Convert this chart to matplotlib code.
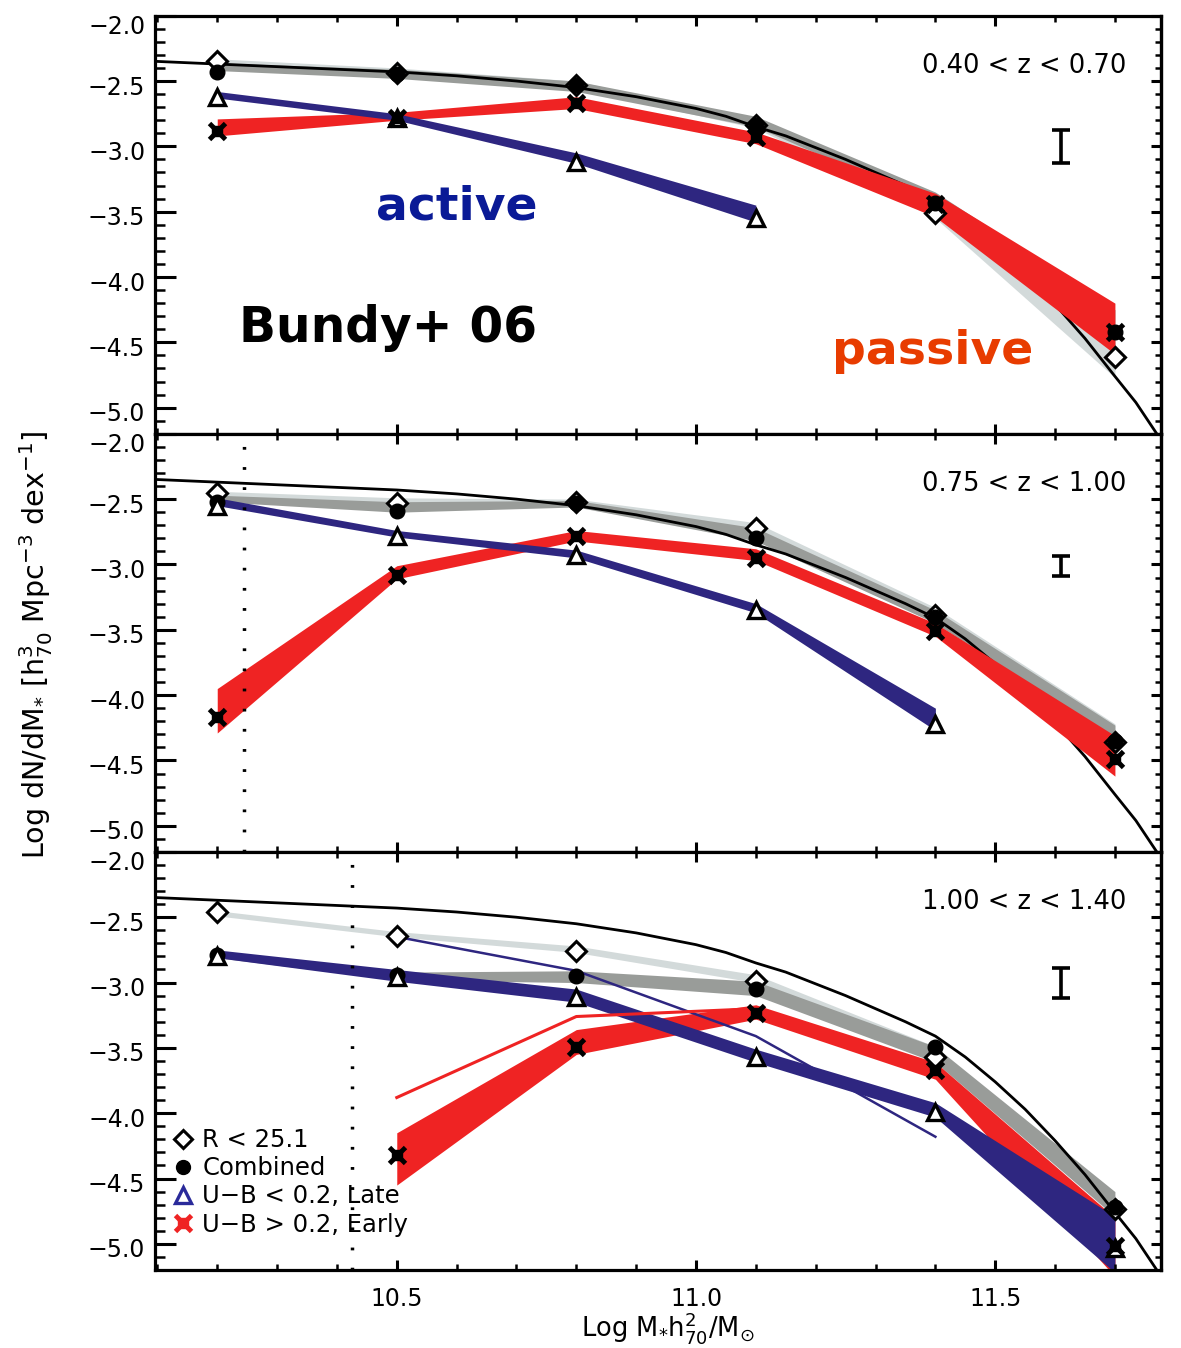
import numpy as np
import matplotlib
matplotlib.use("Agg")
import matplotlib.pyplot as plt
from matplotlib.ticker import MultipleLocator, FuncFormatter
from matplotlib.lines import Line2D
from matplotlib.legend_handler import HandlerTuple
from matplotlib.transforms import ScaledTranslation

plt.rcParams['font.family'] = ['DejaVu Sans']
plt.rcParams['mathtext.fontset'] = 'dejavusans'

# ---------------- data ----------------
mass = [10.2, 10.5, 10.8, 11.1, 11.4, 11.7]
z_labels = ["0.40 < z < 0.70", "0.75 < z < 1.00", "1.00 < z < 1.40"]

# local reference mass function (black curve)
curve_mass = [10.10, 10.20, 10.30, 10.40, 10.50, 10.60, 10.70, 10.80, 10.90,
              11.00, 11.05, 11.10, 11.15, 11.20, 11.25, 11.30, 11.35, 11.40,
              11.45, 11.50, 11.55, 11.60, 11.65, 11.70, 11.735, 11.77]
curve_logphi = [-2.35, -2.37, -2.39, -2.41, -2.43, -2.46, -2.50, -2.55, -2.62,
                -2.71, -2.77, -2.85, -2.92, -3.01, -3.10, -3.20, -3.30, -3.41,
                -3.57, -3.76, -3.97, -4.21, -4.47, -4.76, -4.96, -5.20]

# representative error bar per panel
err_mass = 11.61
err_center = [-3.0, -3.01, -3.0]
err_half = [0.125, 0.075, 0.115]

# completeness limits (dotted lines)
complete_limit = [None, 10.245, 10.426]

# ---- panel 1 : 0.40 < z < 0.70 ----
p1_rlim = [-2.35, -2.44, -2.53, -2.84, -3.51, -4.61]
p1_comb = [-2.43, -2.45, -2.53, -2.84, -3.43, -4.42]
p1_late = [-2.62, -2.78, -3.12, -3.55]
p1_early = [-2.88, -2.78, -2.67, -2.93, -3.44, -4.42]
p1_lgray_hi = [-2.33, -2.40, -2.50, -2.80, -3.42, -4.50]
p1_lgray_lo = [-2.38, -2.45, -2.56, -2.86, -3.55, -4.77]
p1_dgray_hi = [-2.36, -2.41, -2.50, -2.77, -3.35, -4.25]
p1_dgray_lo = [-2.42, -2.48, -2.58, -2.85, -3.45, -4.55]
p1_red_hi = [-2.79, -2.74, -2.62, -2.89, -3.36, -4.20]
p1_red_lo = [-2.92, -2.80, -2.71, -2.98, -3.54, -4.59]
p1_blue_hi = [-2.58, -2.75, -3.05, -3.45]
p1_blue_lo = [-2.63, -2.80, -3.13, -3.58]

# ---- panel 2 : 0.75 < z < 1.00 ----
p2_rlim = [-2.45, -2.53, -2.52, -2.72, -3.39, -4.36]
p2_comb = [-2.52, -2.59, -2.53, -2.80, -3.40, -4.35]
p2_late = [-2.55, -2.78, -2.93, -3.35, -4.22]
p2_early = [-4.17, -3.08, -2.78, -2.95, -3.51, -4.49]
p2_lgray_hi = [-2.44, -2.49, -2.50, -2.68, -3.33, -4.22]
p2_lgray_lo = [-2.48, -2.53, -2.54, -2.75, -3.40, -4.30]
p2_dgray_hi = [-2.47, -2.52, -2.51, -2.72, -3.35, -4.23]
p2_dgray_lo = [-2.52, -2.60, -2.56, -2.82, -3.45, -4.33]
p2_red_hi = [-3.95, -3.01, -2.74, -2.88, -3.45, -4.31]
p2_red_lo = [-4.29, -3.11, -2.82, -2.97, -3.55, -4.62]
p2_blue_hi = [-2.49, -2.74, -2.89, -3.30, -4.10]
p2_blue_lo = [-2.55, -2.79, -2.95, -3.37, -4.27]

# ---- panel 3 : 1.00 < z < 1.40 ----
p3_rlim = [-2.46, -2.64, -2.76, -2.99, -3.57, -4.73]
p3_comb = [-2.79, -2.94, -2.95, -3.05, -3.49, -4.72]
p3_late = [-2.80, -2.96, -3.11, -3.57, -3.99, -5.03]
p3_early = [-4.32, -3.49, -3.23, -3.67, -5.02]          # from 10.5 on
p3_lgray_hi = [-2.45, -2.61, -2.72, -2.94, -3.49, -4.73]
p3_lgray_lo = [-2.49, -2.65, -2.77, -3.00, -3.55, -4.80]
p3_dgray_hi = [-2.78, -2.92, -2.91, -2.99, -3.49, -4.60]
p3_dgray_lo = [-2.81, -2.98, -3.00, -3.10, -3.61, -4.79]
p3_red_hi = [-4.15, -3.36, -3.17, -3.61, -4.80]         # from 10.5 on
p3_red_lo = [-4.55, -3.55, -3.28, -3.74, -5.25]
p3_blue_hi = [-2.75, -2.90, -3.05, -3.51, -3.92, -4.79]
p3_blue_lo = [-2.81, -2.99, -3.15, -3.61, -4.03, -5.22]
p3_thin_blue = [-2.65, -2.91, -3.41, -4.18]             # 10.5 .. 11.4
p3_thin_red = [-3.88, -3.26, -3.20]                     # 10.5 .. 11.1

# ---------------- styling ----------------
C_LGRAY = '#D3DADA'
C_DGRAY = '#999C99'
C_RED = '#EF2323'
C_BLUE = '#2E2680'
C_LEG_BLUE = '#2A2A9A'
C_ACTIVE = '#0A1A96'
C_PASSIVE = '#E83C00'

panels = [
    dict(rlim=p1_rlim, comb=p1_comb, late=p1_late, early=p1_early, early_x=mass,
         lg=(p1_lgray_lo, p1_lgray_hi), dg=(p1_dgray_lo, p1_dgray_hi),
         red=(p1_red_lo, p1_red_hi), red_x=mass, blue=(p1_blue_lo, p1_blue_hi)),
    dict(rlim=p2_rlim, comb=p2_comb, late=p2_late, early=p2_early, early_x=mass,
         lg=(p2_lgray_lo, p2_lgray_hi), dg=(p2_dgray_lo, p2_dgray_hi),
         red=(p2_red_lo, p2_red_hi), red_x=mass, blue=(p2_blue_lo, p2_blue_hi)),
    dict(rlim=p3_rlim, comb=p3_comb, late=p3_late, early=p3_early, early_x=mass[1:],
         lg=(p3_lgray_lo, p3_lgray_hi), dg=(p3_dgray_lo, p3_dgray_hi),
         red=(p3_red_lo, p3_red_hi), red_x=mass[1:], blue=(p3_blue_lo, p3_blue_hi)),
]

fig = plt.figure(figsize=(11.81, 13.48), dpi=100)
axes = fig.subplots(3, 1, sharex=True)
fig.subplots_adjust(left=155/1181, right=1161/1181, top=1-15.7/1348,
                    bottom=1-1270/1348, hspace=0)

minus_fmt = FuncFormatter(lambda v, p: f"{v:.1f}".replace('-', '\u2212'))

for i, (ax, pd_) in enumerate(zip(axes, panels)):
    ax.set_xlim(10.096, 11.777)
    ax.set_ylim(-5.2, -2.0)

    # bands (gray first)
    ax.fill_between(mass, pd_['lg'][0], pd_['lg'][1], color=C_LGRAY, lw=0, zorder=1)
    ax.fill_between(mass, pd_['dg'][0], pd_['dg'][1], color=C_DGRAY, lw=0, zorder=1.1)

    # local curve (over the gray bands, under the coloured ones)
    ax.plot(curve_mass, curve_logphi, color='black', lw=2.0, zorder=1.15,
            solid_joinstyle='round')

    ax.fill_between(pd_['red_x'], pd_['red'][0], pd_['red'][1], color=C_RED, lw=0, zorder=1.2)
    nb = len(pd_['blue'][0])
    ax.fill_between(mass[:nb], pd_['blue'][0], pd_['blue'][1], color=C_BLUE, lw=0, zorder=1.3)

    if i == 2:
        ax.plot(mass[1:5], p3_thin_blue, color=C_BLUE, lw=1.8, zorder=1.4)
        ax.plot(mass[1:4], p3_thin_red, color=C_RED, lw=2.2, zorder=1.4)

    # markers
    ax.plot(mass, pd_['rlim'], ls='none', marker='D', ms=9.8, mfc='white',
            mec='black', mew=2.2, zorder=3)
    ax.plot(mass, pd_['comb'], ls='none', marker='o', ms=10.5, mfc='black',
            mec='black', zorder=3.1)
    nl = len(pd_['late'])
    ax.plot(mass[:nl], pd_['late'], ls='none', marker='^', ms=12, mfc='white',
            mec='black', mew=2.4, zorder=3.2)
    ax.plot(pd_['early_x'], pd_['early'], ls='none', marker='s', ms=7.5,
            mfc='black', mec='black', zorder=3.3)
    ax.plot(pd_['early_x'], pd_['early'], ls='none', marker='x', ms=12,
            mec='black', mew=3.5, zorder=3.3)

    # representative error bar
    ax.errorbar(err_mass, err_center[i], yerr=err_half[i], fmt='none', ecolor='black',
                elinewidth=2.6, capsize=6.5, capthick=2.6, zorder=3)

    if complete_limit[i] is not None:
        ax.axvline(complete_limit[i], ymin=0.0, ymax=0.97, color='black', lw=2.5,
                   ls=(0, (0.8, 5.0)), zorder=2)

    ax.text(0.966, 0.88, z_labels[i], transform=ax.transAxes, ha='right', va='center',
            fontsize=18.5)

    # axes / ticks
    for s in ax.spines.values():
        s.set_linewidth(2.3)
    ax.xaxis.set_major_locator(MultipleLocator(0.5))
    ax.xaxis.set_minor_locator(MultipleLocator(0.1))
    ax.yaxis.set_major_locator(MultipleLocator(0.5))
    ax.yaxis.set_minor_locator(MultipleLocator(0.1))
    ax.yaxis.set_major_formatter(minus_fmt)
    ax.tick_params(axis='y', which='major', direction='in', length=15, width=2.2,
                   left=True, right=False, labelsize=17, pad=7)
    ax.tick_params(axis='y', which='minor', direction='in', length=7.5, width=1.8,
                   left=True, right=False)
    ax.tick_params(axis='x', which='major', direction='in', length=7.5, width=2.2,
                   top=True, bottom=True, labelsize=17, pad=12)
    ax.tick_params(axis='x', which='minor', direction='in', length=4, width=1.8,
                   top=True, bottom=True)
    sec = ax.secondary_yaxis('right')
    sec.yaxis.set_major_locator(MultipleLocator(0.5))
    sec.yaxis.set_minor_locator(MultipleLocator(0.1))
    sec.tick_params(which='major', direction='in', length=7.5, width=2.2, labelright=False)
    sec.tick_params(which='minor', direction='in', length=4, width=1.8)
    sec.spines['right'].set_linewidth(2.3)

axes[2].xaxis.set_major_formatter(FuncFormatter(lambda v, p: f"{v:.1f}"))

# annotations in the top panel
axes[0].text(0.2997, 0.513, 'active', transform=axes[0].transAxes, ha='center',
             va='baseline', fontsize=34, fontweight='bold', color=C_ACTIVE)
axes[0].text(0.7734, 0.168, 'passive', transform=axes[0].transAxes, ha='center',
             va='baseline', fontsize=34, fontweight='bold', color=C_PASSIVE)
axes[0].text(0.2316, 0.2185, 'Bundy+ 06', transform=axes[0].transAxes, ha='center',
             va='baseline', fontsize=35, fontweight='bold', color='black')

# legend in bottom panel
handles = [
    Line2D([], [], ls='none', marker='D', ms=9, mfc='white', mec='black', mew=2.2),
    Line2D([], [], ls='none', marker='o', ms=10, mfc='black', mec='black'),
    Line2D([], [], ls='none', marker='^', ms=11.5, mfc='white', mec=C_LEG_BLUE, mew=2.4),
    (Line2D([], [], ls='none', marker='s', ms=7, mfc=C_RED, mec=C_RED),
     Line2D([], [], ls='none', marker='x', ms=11.5, mec=C_RED, mew=3.5)),
]
labels = ['R < 25.1', 'Combined', 'U\u2212B < 0.2, Late', 'U\u2212B > 0.2, Early']
axes[2].legend(handles, labels, loc='lower left', bbox_to_anchor=(0.018, 0.08),
               frameon=False, fontsize=17.5, handlelength=0.8, handletextpad=0.4,
               labelspacing=0.17, borderpad=0, borderaxespad=0,
               handler_map={tuple: HandlerTuple(ndivide=1, pad=0)})

fig.text(36/1181, 1-645/1348,
         r'Log dN/dM$_{*}$ [h$_{70}^{3}$ Mpc$^{-3}$ dex$^{-1}$]',
         rotation=90, ha='center', va='center', fontsize=20.5)
fig.text(668/1181, 1-1336/1348, r'Log M$_{*}$h$_{70}^{2}$/M$_{\odot}$',
         ha='center', va='baseline', fontsize=18.5)

# nudge y tick labels slightly downward, the top one (-2.0) more
fig.canvas.draw()
for ax in axes:
    for t in ax.yaxis.get_major_ticks():
        dy = 9 if abs(t.get_loc() + 2.0) < 1e-6 else 4
        t.label1.set_transform(t.label1.get_transform() +
                               ScaledTranslation(0, -dy / 100, fig.dpi_scale_trans))

fig.savefig('out.png', dpi=100)
